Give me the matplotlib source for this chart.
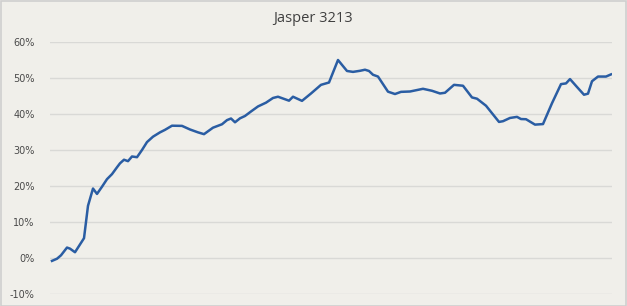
import matplotlib
matplotlib.use("Agg")
import matplotlib.pyplot as plt
from matplotlib.patches import Rectangle
from matplotlib.ticker import FuncFormatter

# period index (arbitrary time units) and cumulative return (%)
day = [0, 5, 9, 15, 18, 23, 32, 36, 41, 45, 50, 55, 60, 65, 68, 72, 76, 80, 85,
       90, 95, 101, 108, 113, 120, 130, 138, 146, 152, 161, 170, 175, 179, 183,
       188, 193, 199, 206, 214, 221, 226, 231, 237, 241, 250, 259, 269, 277,
       286, 295, 301, 308, 313, 317, 321, 326, 336, 343, 349, 358, 371, 380,
       388, 393, 402, 411, 420, 425, 434, 447, 451, 458, 465, 469, 474, 483,
       491, 500, 509, 514, 518, 525, 532, 536, 540, 546, 554, 559]
ret = [-0.8, -0.2, 0.75, 2.9, 2.6, 1.6, 5.5, 14.5, 19.3, 17.8, 19.8, 21.9, 23.3,
       25.2, 26.3, 27.3, 26.9, 28.2, 28.0, 30.0, 32.2, 33.7, 34.9, 35.6, 36.75,
       36.7, 35.7, 34.9, 34.4, 36.2, 37.15, 38.3, 38.75, 37.7, 38.8, 39.45,
       40.7, 42.1, 43.15, 44.45, 44.8, 44.3, 43.7, 44.8, 43.65, 45.7, 48.1,
       48.75, 55.0, 51.95, 51.7, 52.0, 52.3, 51.95, 50.9, 50.4, 46.2, 45.55,
       46.15, 46.25, 47.0, 46.45, 45.7, 45.9, 48.1, 47.85, 44.6, 44.25, 42.3,
       37.8, 38.0, 38.9, 39.2, 38.6, 38.55, 37.05, 37.2, 43.0, 48.3, 48.5,
       49.7, 47.5, 45.35, 45.65, 49.1, 50.4, 50.4, 51.0]
yticks = [-10, 0, 10, 20, 30, 40, 50, 60]
title = "Jasper 3213"

W, H = 627, 306
fig = plt.figure(figsize=(W / 100, H / 100), dpi=100)
bg = "#F0EFEA"
fig.patch.set_facecolor(bg)

ax = fig.add_axes([50 / W, (H - 294) / H, (612 - 50) / W, (294 - 42) / H])
ax.set_facecolor(bg)
ax.plot(day, ret, color="#2A5DA3", lw=1.8, solid_joinstyle="round")
ax.set_ylim(-10, 60)
ax.set_xlim(-2, 560)
ax.set_yticks(yticks)
ax.yaxis.set_major_formatter(FuncFormatter(lambda v, p: f"{v:.0f}%"))
ax.set_xticks([])
ax.grid(axis="y", color="#D9D9D6", lw=1.0)
ax.set_axisbelow(True)
for s in ax.spines.values():
    s.set_visible(False)
ax.tick_params(axis="y", length=0, pad=11, labelsize=7, labelcolor="#4A4A4A")
for lbl in ax.get_yticklabels():
    lbl.set_fontfamily("DejaVu Sans")

fig.text(313 / W, 1 - 19 / H, title, ha="center", va="center",
         fontsize=10.5, color="#404040", family="Open Sans")

fig.patches.append(Rectangle((0.5 / W, 0.5 / H), 1 - 1.5 / W, 1 - 1.5 / H,
                             transform=fig.transFigure, fill=False,
                             edgecolor="#CFCFCF", lw=1.2))

fig.savefig("out.png", dpi=100, facecolor=bg)
